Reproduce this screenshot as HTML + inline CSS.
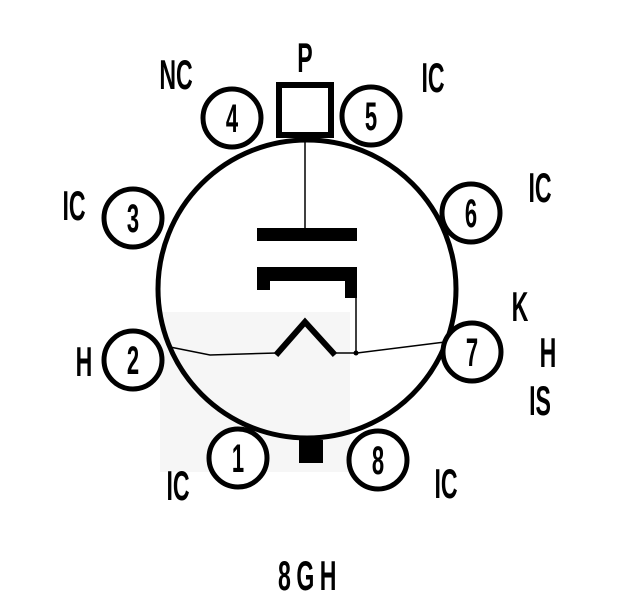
<!DOCTYPE html>
<html><head><style>
html,body{margin:0;padding:0;background:#fff;}
svg{display:block;}
text{font-family:"Liberation Sans",sans-serif;font-weight:bold;fill:#000;}
</style></head><body>
<svg width="640" height="608" viewBox="0 0 640 608" xmlns="http://www.w3.org/2000/svg">
<rect width="640" height="608" fill="#fff"/>
<rect x="160" y="312" width="190" height="160" fill="#f6f6f6"/>
<circle cx="307" cy="289" r="149" fill="none" stroke="#000" stroke-width="5"/>
<g fill="#fff" stroke="#000" stroke-width="5">
<circle cx="232" cy="118" r="29"/>
<circle cx="371" cy="116" r="29"/>
<circle cx="133" cy="218" r="29"/>
<circle cx="471" cy="213" r="29"/>
<circle cx="133" cy="360" r="29"/>
<circle cx="472" cy="352" r="29"/>
<circle cx="238" cy="458" r="29"/>
<circle cx="378" cy="460" r="29"/>
</g>
<rect x="279" y="85" width="52" height="50" fill="#fff" stroke="#000" stroke-width="6"/>
<line x1="305" y1="138" x2="305" y2="230" stroke="#000" stroke-width="1.5"/>
<rect x="257" y="228" width="100" height="13" fill="#000"/>
<path d="M257 267 H357 V298 H345 V281 H270 V290 H257 Z" fill="#000"/>
<line x1="356" y1="296" x2="356" y2="353" stroke="#000" stroke-width="1.5"/>
<polyline points="170,347 210,355 277,353" fill="none" stroke="#000" stroke-width="1.5"/>
<polyline points="276,355 305,322 335,355" fill="none" stroke="#000" stroke-width="6"/>
<polyline points="335,353 357,353 445,342" fill="none" stroke="#000" stroke-width="1.5"/>
<circle cx="356" cy="353" r="2.5" fill="#000"/>
<rect x="299" y="440" width="24" height="23" fill="#000"/>
<g font-size="40" text-anchor="middle">
<text x="232" y="132" transform="translate(232 0) scale(0.55 1) translate(-232 0)">4</text>
<text x="371" y="130" transform="translate(371 0) scale(0.55 1) translate(-371 0)">5</text>
<text x="133" y="232" transform="translate(133 0) scale(0.55 1) translate(-133 0)">3</text>
<text x="471" y="227" transform="translate(471 0) scale(0.55 1) translate(-471 0)">6</text>
<text x="133" y="374" transform="translate(133 0) scale(0.55 1) translate(-133 0)">2</text>
<text x="472" y="366" transform="translate(472 0) scale(0.55 1) translate(-472 0)">7</text>
<text x="238" y="472" transform="translate(238 0) scale(0.55 1) translate(-238 0)">1</text>
<text x="378" y="474" transform="translate(378 0) scale(0.55 1) translate(-378 0)">8</text>
</g>
<g font-size="42" text-anchor="middle">
<text x="305" y="72" transform="translate(305 0) scale(0.55 1) translate(-305 0)">P</text>
<text x="176" y="89" transform="translate(176 0) scale(0.55 1) translate(-176 0)">NC</text>
<text x="433" y="92" transform="translate(433 0) scale(0.55 1) translate(-433 0)">IC</text>
<text x="74" y="220" transform="translate(74 0) scale(0.55 1) translate(-74 0)">IC</text>
<text x="540" y="202" transform="translate(540 0) scale(0.55 1) translate(-540 0)">IC</text>
<text x="520" y="321" transform="translate(520 0) scale(0.55 1) translate(-520 0)">K</text>
<text x="548" y="367" transform="translate(548 0) scale(0.55 1) translate(-548 0)">H</text>
<text x="540" y="415" transform="translate(540 0) scale(0.55 1) translate(-540 0)">IS</text>
<text x="84" y="376" transform="translate(84 0) scale(0.55 1) translate(-84 0)">H</text>
<text x="178" y="500" transform="translate(178 0) scale(0.55 1) translate(-178 0)">IC</text>
<text x="446" y="498" transform="translate(446 0) scale(0.55 1) translate(-446 0)">IC</text>
<text x="310" y="590" transform="translate(310 0) scale(0.55 1) translate(-310 0)" letter-spacing="10">8GH</text>
</g>
</svg>
</body></html>
